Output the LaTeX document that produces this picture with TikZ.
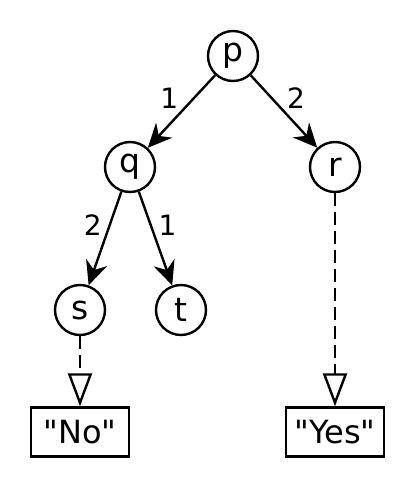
\documentclass[tikz,border=0pt]{standalone}
\usepackage{fontspec}
\setmainfont{DejaVu Sans}
\usetikzlibrary{arrows.meta}
\newcommand{\comilla}{\XeTeXglyph\XeTeXcharglyph"0022\relax}
\tikzset{
  nodo/.style    = {draw, circle, line width=1.2pt, minimum size=25pt, inner sep=0pt,
                    font=\fontsize{16.5}{19}\selectfont},
  hoja/.style    = {draw, rectangle, line width=1.2pt, minimum width=49pt,
                    minimum height=24.5pt, inner sep=0pt, font=\fontsize{16}{19}\selectfont},
  flecha/.style  = {-{Stealth[length=12pt,width=11pt]}, line width=1.2pt},
  flechad/.style = {-{Triangle[open,length=16.5pt,width=12pt]}, line width=1.2pt,
                    dash pattern=on 6.5pt off 3pt},
  lbl/.style     = {font=\fontsize{14}{17}\selectfont, inner sep=1pt},
}
\begin{document}
\begin{tikzpicture}[x=0.5pt,y=-0.5pt]
  \useasboundingbox (0,0) rectangle (415,489);
  % arbol
  \node[nodo] (p) at (233,56) {p};
  \node[nodo] (q) at (130,167) {q};
  \node[nodo] (r) at (335,167) {r};
  \node[nodo] (s) at (80,310) {s};
  \node[nodo] (t) at (181,310) {t};
  % hojas
  \node[hoja] (no) at (80,432) {\comilla No\comilla};
  \node[hoja] (yes) at (335,432) {\comilla Yes\comilla};

  \draw[flecha] (p) -- node[lbl,above left]{1} (q);
  \draw[flecha] (p) -- node[lbl,above right]{2} (r);
  \draw[flecha] (q) -- node[lbl,above left]{2} (s);
  \draw[flecha] (q) -- node[lbl,above right]{1} (t);
  \draw[flechad] (s) -- (no);
  \draw[flechad] (r) -- (yes);
\end{tikzpicture}
\end{document}
